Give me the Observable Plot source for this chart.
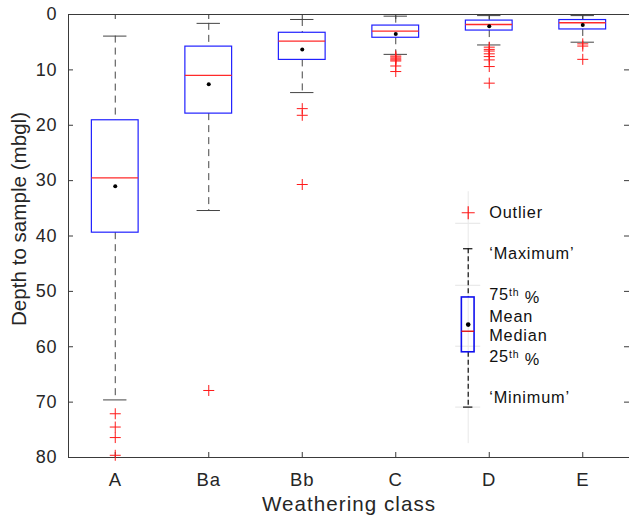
<!DOCTYPE html>
<html>
<head>
<meta charset="utf-8">
<script src="https://cdn.jsdelivr.net/npm/d3@7"></script>
<script src="https://cdn.jsdelivr.net/npm/@observablehq/plot@0.6"></script>
<style>
  html, body { margin: 0; padding: 0; background: #fff; }
  svg { display: block; }
  svg text { letter-spacing: 0.05em; }
  svg .y-title text, svg text.y-title { letter-spacing: 0; }
</style>
</head>
<body>
<div id="chart"></div>
<script>
// Weathering classes along x
const classes = ["A", "Ba", "Bb", "C", "D", "E"];

// Box-plot statistics, depth in mbgl (0 at the top)
const whiskerTop    = [3.9, 1.6, 0.9, 0.3, 0.2, 0.2];
const boxTop        = [19.1, 5.8, 3.3, 2.0, 1.1, 1.0];
const medians       = [29.5, 11.0, 4.8, 3.0, 1.8, 1.5];
const means         = [31.0, 12.6, 6.3, 3.5, 2.1, 1.9];
const boxBottom     = [39.4, 17.9, 8.2, 4.2, 2.9, 2.7];
const whiskerBottom = [69.6, 35.4, 14.1, 7.2, 5.5, 5.0];

// Outliers per class
const outliersA  = [72.1, 74.5, 76.4, 79.6];
const outliersBa = [67.9];
const outliersBb = [17.0, 18.2, 30.7];
const outliersC  = [7.5, 7.7, 8.0, 8.2, 8.4, 9.3, 10.3];
const outliersD  = [5.9, 6.3, 6.6, 7.1, 7.6, 8.2, 9.4, 12.4];
const outliersE  = [5.3, 5.7, 8.1];

// Axis ticks
const yTicks = [0, 10, 20, 30, 40, 50, 60, 70, 80];
const xTicks = [1, 2, 3, 4, 5, 6];

// Key drawn inside the axes (data units)
const keyX = 4.775;
const keyOutlier = 35.8;
const keyMax = 42.3;
const keyBoxTop = 51.1;
const keyMean = 56.0;
const keyMedian = 57.2;
const keyBoxBottom = 61.0;
const keyMin = 70.9;
const keyGuides = [37.7, 48.9, 59.9, 70.9];
const keyLabels = ["Outlier", "\u2018Maximum\u2019", "75th %", "Mean", "Median", "25th %", "\u2018Minimum\u2019"];
const keyLabelY = [35.8, 43.2, 50.7, 54.5, 58.1, 61.9, 69.3];

// ---- tables built from the arrays ----
const stats = classes.map((c, k) => ({
  i: k + 1, c,
  wTop: whiskerTop[k], bTop: boxTop[k], med: medians[k],
  mean: means[k], bBot: boxBottom[k], wBot: whiskerBottom[k]
}));
const outlierLists = [outliersA, outliersBa, outliersBb, outliersC, outliersD, outliersE];
const outliers = outlierLists.flatMap((arr, k) => arr.map(v => ({i: k + 1, v})));
const keyText = keyLabels.map((t, k) => ({t, y: keyLabelY[k]}));

// thin "+" marker
const thinPlus = {
  draw(ctx, size) {
    const r = Math.sqrt(size / Math.PI);
    ctx.moveTo(-r, 0); ctx.lineTo(r, 0);
    ctx.moveTo(0, -r); ctx.lineTo(0, r);
  }
};

const W = 630, H = 519;
const mL = 68, mR = 1, mT = 14, mB = 62;
const fw = W - mL - mR, fh = H - mT - mB;

const axisColor = "#3a3a3a";
const textColor = "#262626";
const whiskerColor = "#444";
const boxBlue = "#2020ff";
const medRed = "#ff2a2a";
const font = "'Liberation Sans', Arial, Helvetica, sans-serif";

const chart = Plot.plot({
  width: W, height: H,
  marginLeft: mL, marginRight: mR, marginTop: mT, marginBottom: mB,
  style: {fontFamily: font, color: textColor, background: "#fff"},
  x: {type: "linear", domain: [0.5, 6.5]},
  y: {domain: [0, 80], reverse: true},
  marks: [
    // faint guides behind the key
    Plot.ruleY(keyGuides, {y: d => d, x1: keyX - 0.134, x2: keyX + 0.134, stroke: "#e4e4e4", strokeWidth: 1}),
    Plot.ruleX([keyX], {x: d => d, y1: 32, y2: 77.5, stroke: "#e8e8e8", strokeWidth: 1}),

    // axes box lines and inward ticks
    Plot.ruleY([0, 80], {y: d => d, stroke: axisColor, strokeWidth: 1}),
    Plot.ruleX([0.5], {x: d => d, stroke: axisColor, strokeWidth: 1}),
    Plot.tickY(yTicks, {y: d => d, insetRight: fw - 5, stroke: axisColor}),
    Plot.tickY(yTicks, {y: d => d, insetLeft: fw - 5, stroke: axisColor}),
    Plot.tickX(xTicks, {x: d => d, insetBottom: fh - 5, stroke: axisColor}),
    Plot.tickX(xTicks, {x: d => d, insetTop: fh - 5, stroke: axisColor}),

    Plot.axisY({ticks: yTicks, tickSize: 0, tickPadding: 11, fontSize: 18, label: null, fill: textColor}),
    Plot.axisX({ticks: xTicks, tickSize: 0, tickPadding: 15, fontSize: 18.5, label: null, fill: textColor,
                tickFormat: d => classes[d - 1]}),

    // whiskers
    Plot.ruleX(stats, {x: "i", y1: "wTop", y2: "bTop", stroke: whiskerColor, strokeDasharray: "7,5"}),
    Plot.ruleX(stats, {x: "i", y1: "bBot", y2: "wBot", stroke: whiskerColor, strokeDasharray: "7,5"}),
    Plot.ruleY(stats, {y: "wTop", x1: d => d.i - 0.125, x2: d => d.i + 0.125, stroke: whiskerColor}),
    Plot.ruleY(stats, {y: "wBot", x1: d => d.i - 0.125, x2: d => d.i + 0.125, stroke: whiskerColor}),

    // boxes
    Plot.rect(stats, {x1: d => d.i - 0.25, x2: d => d.i + 0.25, y1: "bTop", y2: "bBot",
                      fill: "none", stroke: boxBlue, strokeWidth: 1.2}),
    Plot.ruleY(stats, {y: "med", x1: d => d.i - 0.25, x2: d => d.i + 0.25, stroke: medRed, strokeWidth: 1.4}),
    Plot.dot(stats, {x: "i", y: "mean", r: 2, fill: "#000", stroke: "none"}),

    // outliers
    Plot.dot(outliers, {x: "i", y: "v", symbol: thinPlus, r: 5.5, fill: "none", stroke: "#ff1a1a", strokeWidth: 1}),

    // key
    Plot.dot([keyOutlier], {x: keyX, y: d => d, symbol: thinPlus, r: 6.5, fill: "none", stroke: "#ff1a1a", strokeWidth: 1.2}),
    Plot.ruleX([keyX], {x: d => d, y1: keyMax, y2: keyBoxTop, stroke: "#111", strokeDasharray: "5,3", strokeWidth: 1.2}),
    Plot.ruleX([keyX], {x: d => d, y1: keyBoxBottom, y2: keyMin, stroke: "#111", strokeDasharray: "5,3", strokeWidth: 1.2}),
    Plot.ruleY([keyMax, keyMin], {y: d => d, x1: keyX - 0.05, x2: keyX + 0.05, stroke: "#111", strokeWidth: 1.2}),
    Plot.rect([0], {x1: keyX - 0.068, x2: keyX + 0.068, y1: keyBoxTop, y2: keyBoxBottom,
                    fill: "none", stroke: "#1010ee", strokeWidth: 1.6}),
    Plot.ruleY([keyMedian], {y: d => d, x1: keyX - 0.068, x2: keyX + 0.068, stroke: "#e01010", strokeWidth: 1.4}),
    Plot.dot([keyMean], {x: keyX, y: d => d, r: 2.3, fill: "#000", stroke: "none"}),
    Plot.text(keyText, {x: keyX, y: "y", text: "t", dx: 21, textAnchor: "start", fontSize: 16.3, fill: "#111"}),

    // axis titles
    Plot.text(["Depth to sample (mbgl)"], {frameAnchor: "left", dx: -49, dy: -17, rotate: -90, textAnchor: "middle",
                                           lineAnchor: "middle", fontSize: 20.6, fill: textColor, className: "y-title"}),
    Plot.text(["Weathering class"], {frameAnchor: "bottom", dy: 47, textAnchor: "middle",
                                     lineAnchor: "middle", fontSize: 20.6, fill: textColor})
  ]
});

// superscript "th" in the percentile labels
d3.select(chart).selectAll("text").each(function () {
  const m = this.textContent.match(/^(\d+)th (%)$/);
  if (!m) return;
  const t = d3.select(this);
  t.text(null);
  t.append("tspan").text(m[1]);
  t.append("tspan").attr("dy", "-0.45em").attr("font-size", "10.5px").text("th");
  t.append("tspan").attr("dy", "0.45em").text(" " + m[2]);
});

document.getElementById("chart").appendChild(chart);
</script>
</body>
</html>
